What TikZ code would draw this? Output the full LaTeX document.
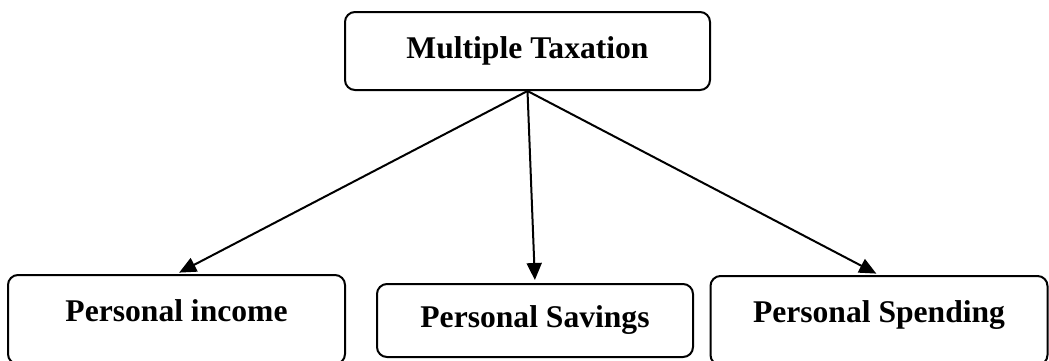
\documentclass[tikz,border=0pt]{standalone}
\usepackage{fontspec}
\setmainfont{Liberation Serif}
\usepackage{tikz}
\usetikzlibrary{arrows.meta}
\newcommand{\boxfont}{\fontsize{31.6}{38}\selectfont\bfseries}
\newcommand{\widthtop}{365pt}
\newcommand{\widthitem}{337pt}
\newcommand{\widthmid}{316pt}
\tikzset{
    common/.style={draw, rectangle, rounded corners=10pt, line width=2pt, font=\boxfont},
    topbox/.style={common, minimum width=\widthtop, minimum height=78pt},
    itembox/.style={common, minimum width=\widthitem, minimum height=89pt, text height=22pt, text depth=18pt},
    midbox/.style={common, minimum width=\widthmid, minimum height=73pt},
    link/.style={-{Triangle[length=17pt, width=15pt]}, line width=2pt, shorten >=3pt}
}
\begin{document}
\begin{tikzpicture}[x=1pt, y=-1pt]
    \useasboundingbox (0,0) rectangle (1049,360);
    \node[itembox] (income) at (176.5,319.5) {Personal income};
    \node[topbox] (tax) at (527.5,51) {Multiple Taxation};
    \node[midbox] (savings) at (535,320.5) {Personal Savings};
    \node[itembox] (spending) at (879,320.5) {Personal Spending};

    \draw[link] (tax.south) -- (income.north);
    \draw[link] (tax.south) -- (savings.north);
    \draw[link] (tax.south) -- (spending.north);
\end{tikzpicture}
\end{document}
